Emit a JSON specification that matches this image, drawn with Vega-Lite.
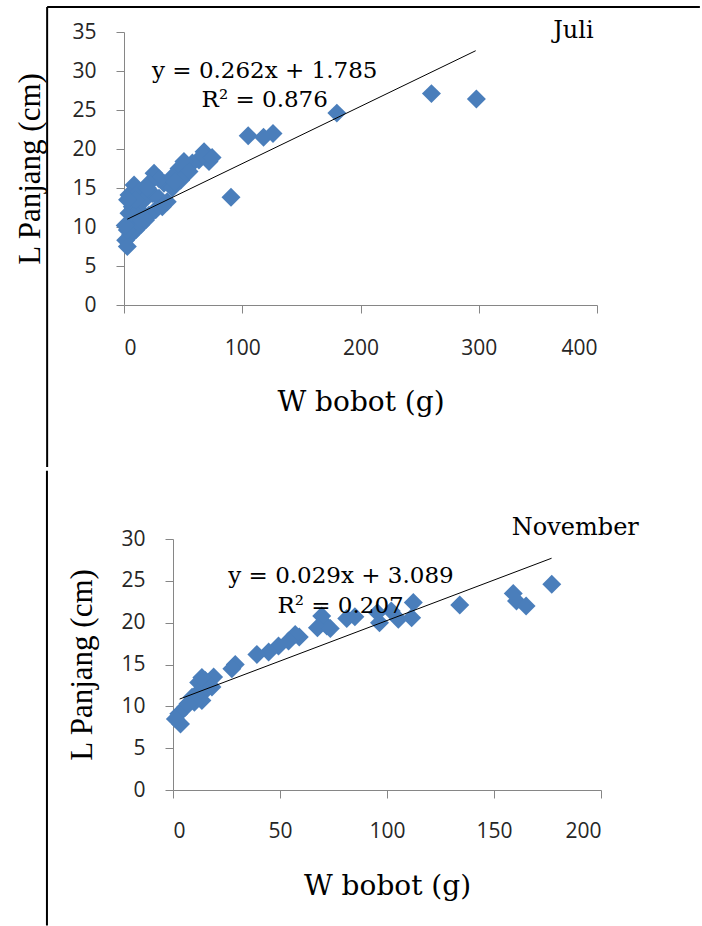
{
  "$schema": "https://vega.github.io/schema/vega-lite/v6.json",
  "padding": {"left": 14, "top": 6, "right": 0, "bottom": 0},
  "datasets": {
    "juli": [
      {"W": 260, "L": 27.1}, {"W": 298, "L": 26.4}, {"W": 180, "L": 24.6}, {"W": 105, "L": 21.7},
      {"W": 118, "L": 21.5}, {"W": 126, "L": 22.0}, {"W": 90.5, "L": 13.8},
      {"W": 67.7, "L": 19.65}, {"W": 71.9, "L": 18.4}, {"W": 63.4, "L": 18.6}, {"W": 57.8, "L": 18.2},
      {"W": 52.2, "L": 17.5}, {"W": 47.9, "L": 17.1}, {"W": 43.7, "L": 16.45}, {"W": 39.5, "L": 16.0},
      {"W": 33.8, "L": 15.6}, {"W": 25.4, "L": 16.9}, {"W": 29.6, "L": 16.2}, {"W": 21.1, "L": 15.6},
      {"W": 8.5, "L": 15.4}, {"W": 4.2, "L": 14.1}, {"W": 12.7, "L": 14.5}, {"W": 16.9, "L": 13.9},
      {"W": 23.9, "L": 14.3}, {"W": 29.6, "L": 13.7}, {"W": 36.6, "L": 13.25}, {"W": 32.4, "L": 12.6},
      {"W": 26.8, "L": 12.2}, {"W": 21.1, "L": 11.5}, {"W": 18.3, "L": 10.9}, {"W": 14.1, "L": 10.3},
      {"W": 9.9, "L": 9.6}, {"W": 5.6, "L": 9.0}, {"W": 1.4, "L": 8.3}, {"W": 2.8, "L": 7.5},
      {"W": 5.6, "L": 10.5}, {"W": 4.2, "L": 11.75}, {"W": 7, "L": 12.6}, {"W": 12.7, "L": 12.2},
      {"W": 15.5, "L": 13.25}, {"W": 9.9, "L": 13.5}, {"W": 8.5, "L": 11.3}, {"W": 12.7, "L": 11.1},
      {"W": 7, "L": 9.6}, {"W": 2.8, "L": 9.6}, {"W": 1, "L": 10.2}, {"W": 19.7, "L": 15.0},
      {"W": 3, "L": 13.5}, {"W": 50.7, "L": 18.4}, {"W": 46.5, "L": 17.5}, {"W": 40.9, "L": 16.45},
      {"W": 66.8, "L": 19.2}, {"W": 55, "L": 17.1}, {"W": 47.9, "L": 16.0}, {"W": 40.9, "L": 15.0},
      {"W": 43, "L": 15.8}, {"W": 74.5, "L": 18.9}
    ],
    "juliTrend": [{"W": 2.8, "L": 11.0}, {"W": 297.4, "L": 32.6}],
    "nov": [
      {"W": 177, "L": 24.6}, {"W": 159, "L": 23.5}, {"W": 160.5, "L": 22.6}, {"W": 165, "L": 22.0},
      {"W": 134, "L": 22.1}, {"W": 112.3, "L": 22.4}, {"W": 111.5, "L": 20.6}, {"W": 105.3, "L": 20.4},
      {"W": 102, "L": 21.4}, {"W": 96.5, "L": 20.0}, {"W": 95.5, "L": 21.2}, {"W": 85, "L": 20.7},
      {"W": 81.2, "L": 20.5}, {"W": 71.9, "L": 19.6}, {"W": 69.5, "L": 20.8}, {"W": 67.5, "L": 19.4},
      {"W": 73.5, "L": 19.3}, {"W": 59, "L": 18.3}, {"W": 57.1, "L": 18.6}, {"W": 54, "L": 17.8},
      {"W": 49.3, "L": 17.2}, {"W": 44.7, "L": 16.5}, {"W": 39.2, "L": 16.2}, {"W": 29.1, "L": 15.0},
      {"W": 27.5, "L": 14.5}, {"W": 19, "L": 13.5}, {"W": 15.1, "L": 13.1}, {"W": 12, "L": 12.85},
      {"W": 15.1, "L": 11.9}, {"W": 13.5, "L": 10.7}, {"W": 8.9, "L": 11.1}, {"W": 5.8, "L": 9.9},
      {"W": 2.7, "L": 9.1}, {"W": 1.1, "L": 8.5}, {"W": 3.5, "L": 7.9}, {"W": 12, "L": 11.7},
      {"W": 18.2, "L": 12.3}, {"W": 10, "L": 10.5}, {"W": 7, "L": 10.3}, {"W": 13.5, "L": 13.45}
    ],
    "novTrend": [{"W": 3.1, "L": 10.87}, {"W": 176.9, "L": 27.7}],
    "one": [{"k": 1}]
  },
  "vconcat": [
    {
      "width": 473,
      "height": 273,
      "layer": [
        {
          "data": {"name": "juli"},
          "mark": {"type": "point", "shape": "diamond", "filled": true, "size": 360, "color": "#4A7EBB", "opacity": 1},
          "encoding": {
            "x": {"field": "W", "type": "quantitative", "scale": {"domain": [0, 400], "nice": false},
                  "axis": {"title": "W bobot (g)", "values": [0, 100, 200, 300, 400], "labelPadding": 24, "titlePadding": 30, "titleFont": "DejaVu Serif", "titleFontSize": 28}},
            "y": {"field": "L", "type": "quantitative", "scale": {"domain": [0, 35], "nice": false},
                  "axis": {"title": "L Panjang (cm)", "values": [0, 5, 10, 15, 20, 25, 30, 35], "labelPadding": 20, "titlePadding": 25, "titleFont": "Liberation Serif", "titleFontSize": 31}}
          }
        },
        {
          "data": {"name": "one"},
          "mark": {"type": "rule", "color": "black", "strokeWidth": 2},
          "encoding": {
            "x": {"datum": -65, "type": "quantitative", "scale": {"domain": [0, 400], "nice": false},
                  "axis": {"title": "W bobot (g)", "values": [0, 100, 200, 300, 400], "labelPadding": 24, "titlePadding": 30, "titleFont": "DejaVu Serif", "titleFontSize": 28}},
            "y": {"datum": 38.2, "type": "quantitative", "scale": {"domain": [0, 35], "nice": false},
                  "axis": {"title": "L Panjang (cm)", "values": [0, 5, 10, 15, 20, 25, 30, 35], "labelPadding": 20, "titlePadding": 25, "titleFont": "Liberation Serif", "titleFontSize": 31}},
            "y2": {"datum": -20.77}
          }
        },
        {
          "data": {"name": "one"},
          "mark": {"type": "rule", "color": "black", "strokeWidth": 2},
          "encoding": {
            "x": {"datum": -65, "type": "quantitative", "scale": {"domain": [0, 400], "nice": false},
                  "axis": {"title": "W bobot (g)", "values": [0, 100, 200, 300, 400], "labelPadding": 24, "titlePadding": 30, "titleFont": "DejaVu Serif", "titleFontSize": 28}},
            "x2": {"datum": 487},
            "y": {"datum": 38.2, "type": "quantitative", "scale": {"domain": [0, 35], "nice": false},
                  "axis": {"title": "L Panjang (cm)", "values": [0, 5, 10, 15, 20, 25, 30, 35], "labelPadding": 20, "titlePadding": 25, "titleFont": "Liberation Serif", "titleFontSize": 31}}
          }
        },
        {
          "data": {"name": "juliTrend"},
          "mark": {"type": "line", "color": "black", "strokeWidth": 1},
          "encoding": {
            "x": {"field": "W", "type": "quantitative", "scale": {"domain": [0, 400], "nice": false},
                  "axis": {"title": "W bobot (g)", "values": [0, 100, 200, 300, 400], "labelPadding": 24, "titlePadding": 30, "titleFont": "DejaVu Serif", "titleFontSize": 28}},
            "y": {"field": "L", "type": "quantitative", "scale": {"domain": [0, 35], "nice": false},
                  "axis": {"title": "L Panjang (cm)", "values": [0, 5, 10, 15, 20, 25, 30, 35], "labelPadding": 20, "titlePadding": 25, "titleFont": "Liberation Serif", "titleFontSize": 31}}
          }
        },
        {
          "data": {"name": "one"},
          "mark": {"type": "text", "text": "y = 0.262x + 1.785", "font": "DejaVu Serif", "fontSize": 23, "color": "black", "align": "center", "baseline": "middle"},
          "encoding": {
            "x": {"datum": 119, "type": "quantitative", "scale": {"domain": [0, 400], "nice": false},
                  "axis": {"title": "W bobot (g)", "values": [0, 100, 200, 300, 400], "labelPadding": 24, "titlePadding": 30, "titleFont": "DejaVu Serif", "titleFontSize": 28}},
            "y": {"datum": 30.0, "type": "quantitative", "scale": {"domain": [0, 35], "nice": false},
                  "axis": {"title": "L Panjang (cm)", "values": [0, 5, 10, 15, 20, 25, 30, 35], "labelPadding": 20, "titlePadding": 25, "titleFont": "Liberation Serif", "titleFontSize": 31}}
          }
        },
        {
          "data": {"name": "one"},
          "mark": {"type": "text", "text": "R² = 0.876", "font": "DejaVu Serif", "fontSize": 23, "color": "black", "align": "center", "baseline": "middle"},
          "encoding": {
            "x": {"datum": 119, "type": "quantitative", "scale": {"domain": [0, 400], "nice": false},
                  "axis": {"title": "W bobot (g)", "values": [0, 100, 200, 300, 400], "labelPadding": 24, "titlePadding": 30, "titleFont": "DejaVu Serif", "titleFontSize": 28}},
            "y": {"datum": 26.3, "type": "quantitative", "scale": {"domain": [0, 35], "nice": false},
                  "axis": {"title": "L Panjang (cm)", "values": [0, 5, 10, 15, 20, 25, 30, 35], "labelPadding": 20, "titlePadding": 25, "titleFont": "Liberation Serif", "titleFontSize": 31}}
          }
        },
        {
          "data": {"name": "one"},
          "mark": {"type": "text", "text": "Juli", "font": "DejaVu Serif", "fontSize": 24, "color": "black", "align": "center", "baseline": "middle"},
          "encoding": {
            "x": {"datum": 380, "type": "quantitative", "scale": {"domain": [0, 400], "nice": false},
                  "axis": {"title": "W bobot (g)", "values": [0, 100, 200, 300, 400], "labelPadding": 24, "titlePadding": 30, "titleFont": "DejaVu Serif", "titleFontSize": 28}},
            "y": {"datum": 35.1, "type": "quantitative", "scale": {"domain": [0, 35], "nice": false},
                  "axis": {"title": "L Panjang (cm)", "values": [0, 5, 10, 15, 20, 25, 30, 35], "labelPadding": 20, "titlePadding": 25, "titleFont": "Liberation Serif", "titleFontSize": 31}}
          }
        }
      ]
    },
    {
      "width": 477,
      "height": 251,
      "layer": [
        {
          "data": {"name": "nov"},
          "mark": {"type": "point", "shape": "diamond", "filled": true, "size": 360, "color": "#4A7EBB", "opacity": 1},
          "encoding": {
            "x": {"field": "W", "type": "quantitative", "scale": {"domain": [0, 200], "nice": false, "range": [49, 477]},
                  "axis": {"title": "W bobot (g)", "values": [0, 50, 100, 150, 200], "labelPadding": 22, "titlePadding": 31, "titleFont": "DejaVu Serif", "titleFontSize": 28}},
            "y": {"field": "L", "type": "quantitative", "scale": {"domain": [0, 30], "nice": false},
                  "axis": {"title": "L Panjang (cm)", "values": [0, 5, 10, 15, 20, 25, 30], "offset": -49, "labelPadding": 20, "titlePadding": 22, "titleFont": "Liberation Serif", "titleFontSize": 31}}
          }
        },
        {
          "data": {"name": "one"},
          "mark": {"type": "rule", "color": "black", "strokeWidth": 2},
          "encoding": {
            "x": {"datum": -58.9, "type": "quantitative", "scale": {"domain": [0, 200], "nice": false, "range": [49, 477]},
                  "axis": {"title": "W bobot (g)", "values": [0, 50, 100, 150, 200], "labelPadding": 22, "titlePadding": 31, "titleFont": "DejaVu Serif", "titleFontSize": 28}},
            "y": {"datum": 38.15, "type": "quantitative", "scale": {"domain": [0, 30], "nice": false},
                  "axis": {"title": "L Panjang (cm)", "values": [0, 5, 10, 15, 20, 25, 30], "offset": -49, "labelPadding": 20, "titlePadding": 22, "titleFont": "Liberation Serif", "titleFontSize": 31}},
            "y2": {"datum": -16.2}
          }
        },
        {
          "data": {"name": "novTrend"},
          "mark": {"type": "line", "color": "black", "strokeWidth": 1},
          "encoding": {
            "x": {"field": "W", "type": "quantitative", "scale": {"domain": [0, 200], "nice": false, "range": [49, 477]},
                  "axis": {"title": "W bobot (g)", "values": [0, 50, 100, 150, 200], "labelPadding": 22, "titlePadding": 31, "titleFont": "DejaVu Serif", "titleFontSize": 28}},
            "y": {"field": "L", "type": "quantitative", "scale": {"domain": [0, 30], "nice": false},
                  "axis": {"title": "L Panjang (cm)", "values": [0, 5, 10, 15, 20, 25, 30], "offset": -49, "labelPadding": 20, "titlePadding": 22, "titleFont": "Liberation Serif", "titleFontSize": 31}}
          }
        },
        {
          "data": {"name": "one"},
          "mark": {"type": "text", "text": "y = 0.029x + 3.089", "font": "DejaVu Serif", "fontSize": 23, "color": "black", "align": "center", "baseline": "middle"},
          "encoding": {
            "x": {"datum": 78.5, "type": "quantitative", "scale": {"domain": [0, 200], "nice": false, "range": [49, 477]},
                  "axis": {"title": "W bobot (g)", "values": [0, 50, 100, 150, 200], "labelPadding": 22, "titlePadding": 31, "titleFont": "DejaVu Serif", "titleFontSize": 28}},
            "y": {"datum": 25.6, "type": "quantitative", "scale": {"domain": [0, 30], "nice": false},
                  "axis": {"title": "L Panjang (cm)", "values": [0, 5, 10, 15, 20, 25, 30], "offset": -49, "labelPadding": 20, "titlePadding": 22, "titleFont": "Liberation Serif", "titleFontSize": 31}}
          }
        },
        {
          "data": {"name": "one"},
          "mark": {"type": "text", "text": "R² = 0.207", "font": "DejaVu Serif", "fontSize": 23, "color": "black", "align": "center", "baseline": "middle"},
          "encoding": {
            "x": {"datum": 78.3, "type": "quantitative", "scale": {"domain": [0, 200], "nice": false, "range": [49, 477]},
                  "axis": {"title": "W bobot (g)", "values": [0, 50, 100, 150, 200], "labelPadding": 22, "titlePadding": 31, "titleFont": "DejaVu Serif", "titleFontSize": 28}},
            "y": {"datum": 22.0, "type": "quantitative", "scale": {"domain": [0, 30], "nice": false},
                  "axis": {"title": "L Panjang (cm)", "values": [0, 5, 10, 15, 20, 25, 30], "offset": -49, "labelPadding": 20, "titlePadding": 22, "titleFont": "Liberation Serif", "titleFontSize": 31}}
          }
        },
        {
          "data": {"name": "one"},
          "mark": {"type": "text", "text": "November", "font": "DejaVu Serif", "fontSize": 24, "color": "black", "align": "center", "baseline": "middle"},
          "encoding": {
            "x": {"datum": 188, "type": "quantitative", "scale": {"domain": [0, 200], "nice": false, "range": [49, 477]},
                  "axis": {"title": "W bobot (g)", "values": [0, 50, 100, 150, 200], "labelPadding": 22, "titlePadding": 31, "titleFont": "DejaVu Serif", "titleFontSize": 28}},
            "y": {"datum": 31.3, "type": "quantitative", "scale": {"domain": [0, 30], "nice": false},
                  "axis": {"title": "L Panjang (cm)", "values": [0, 5, 10, 15, 20, 25, 30], "offset": -49, "labelPadding": 20, "titlePadding": 22, "titleFont": "Liberation Serif", "titleFontSize": 31}}
          }
        }
      ]
    }
  ],
  "spacing": 0,
  "config": {
    "view": {"stroke": null},
    "axis": {
      "grid": false,
      "domainColor": "#868686",
      "tickColor": "#868686",
      "tickSize": 8,
      "labelFont": "Open Sans",
      "labelFontSize": 21,
      "labelColor": "#262626",
      "labelOverlap": false,
      "titleColor": "#000000",
      "titleFontWeight": "normal"
    }
  }
}
